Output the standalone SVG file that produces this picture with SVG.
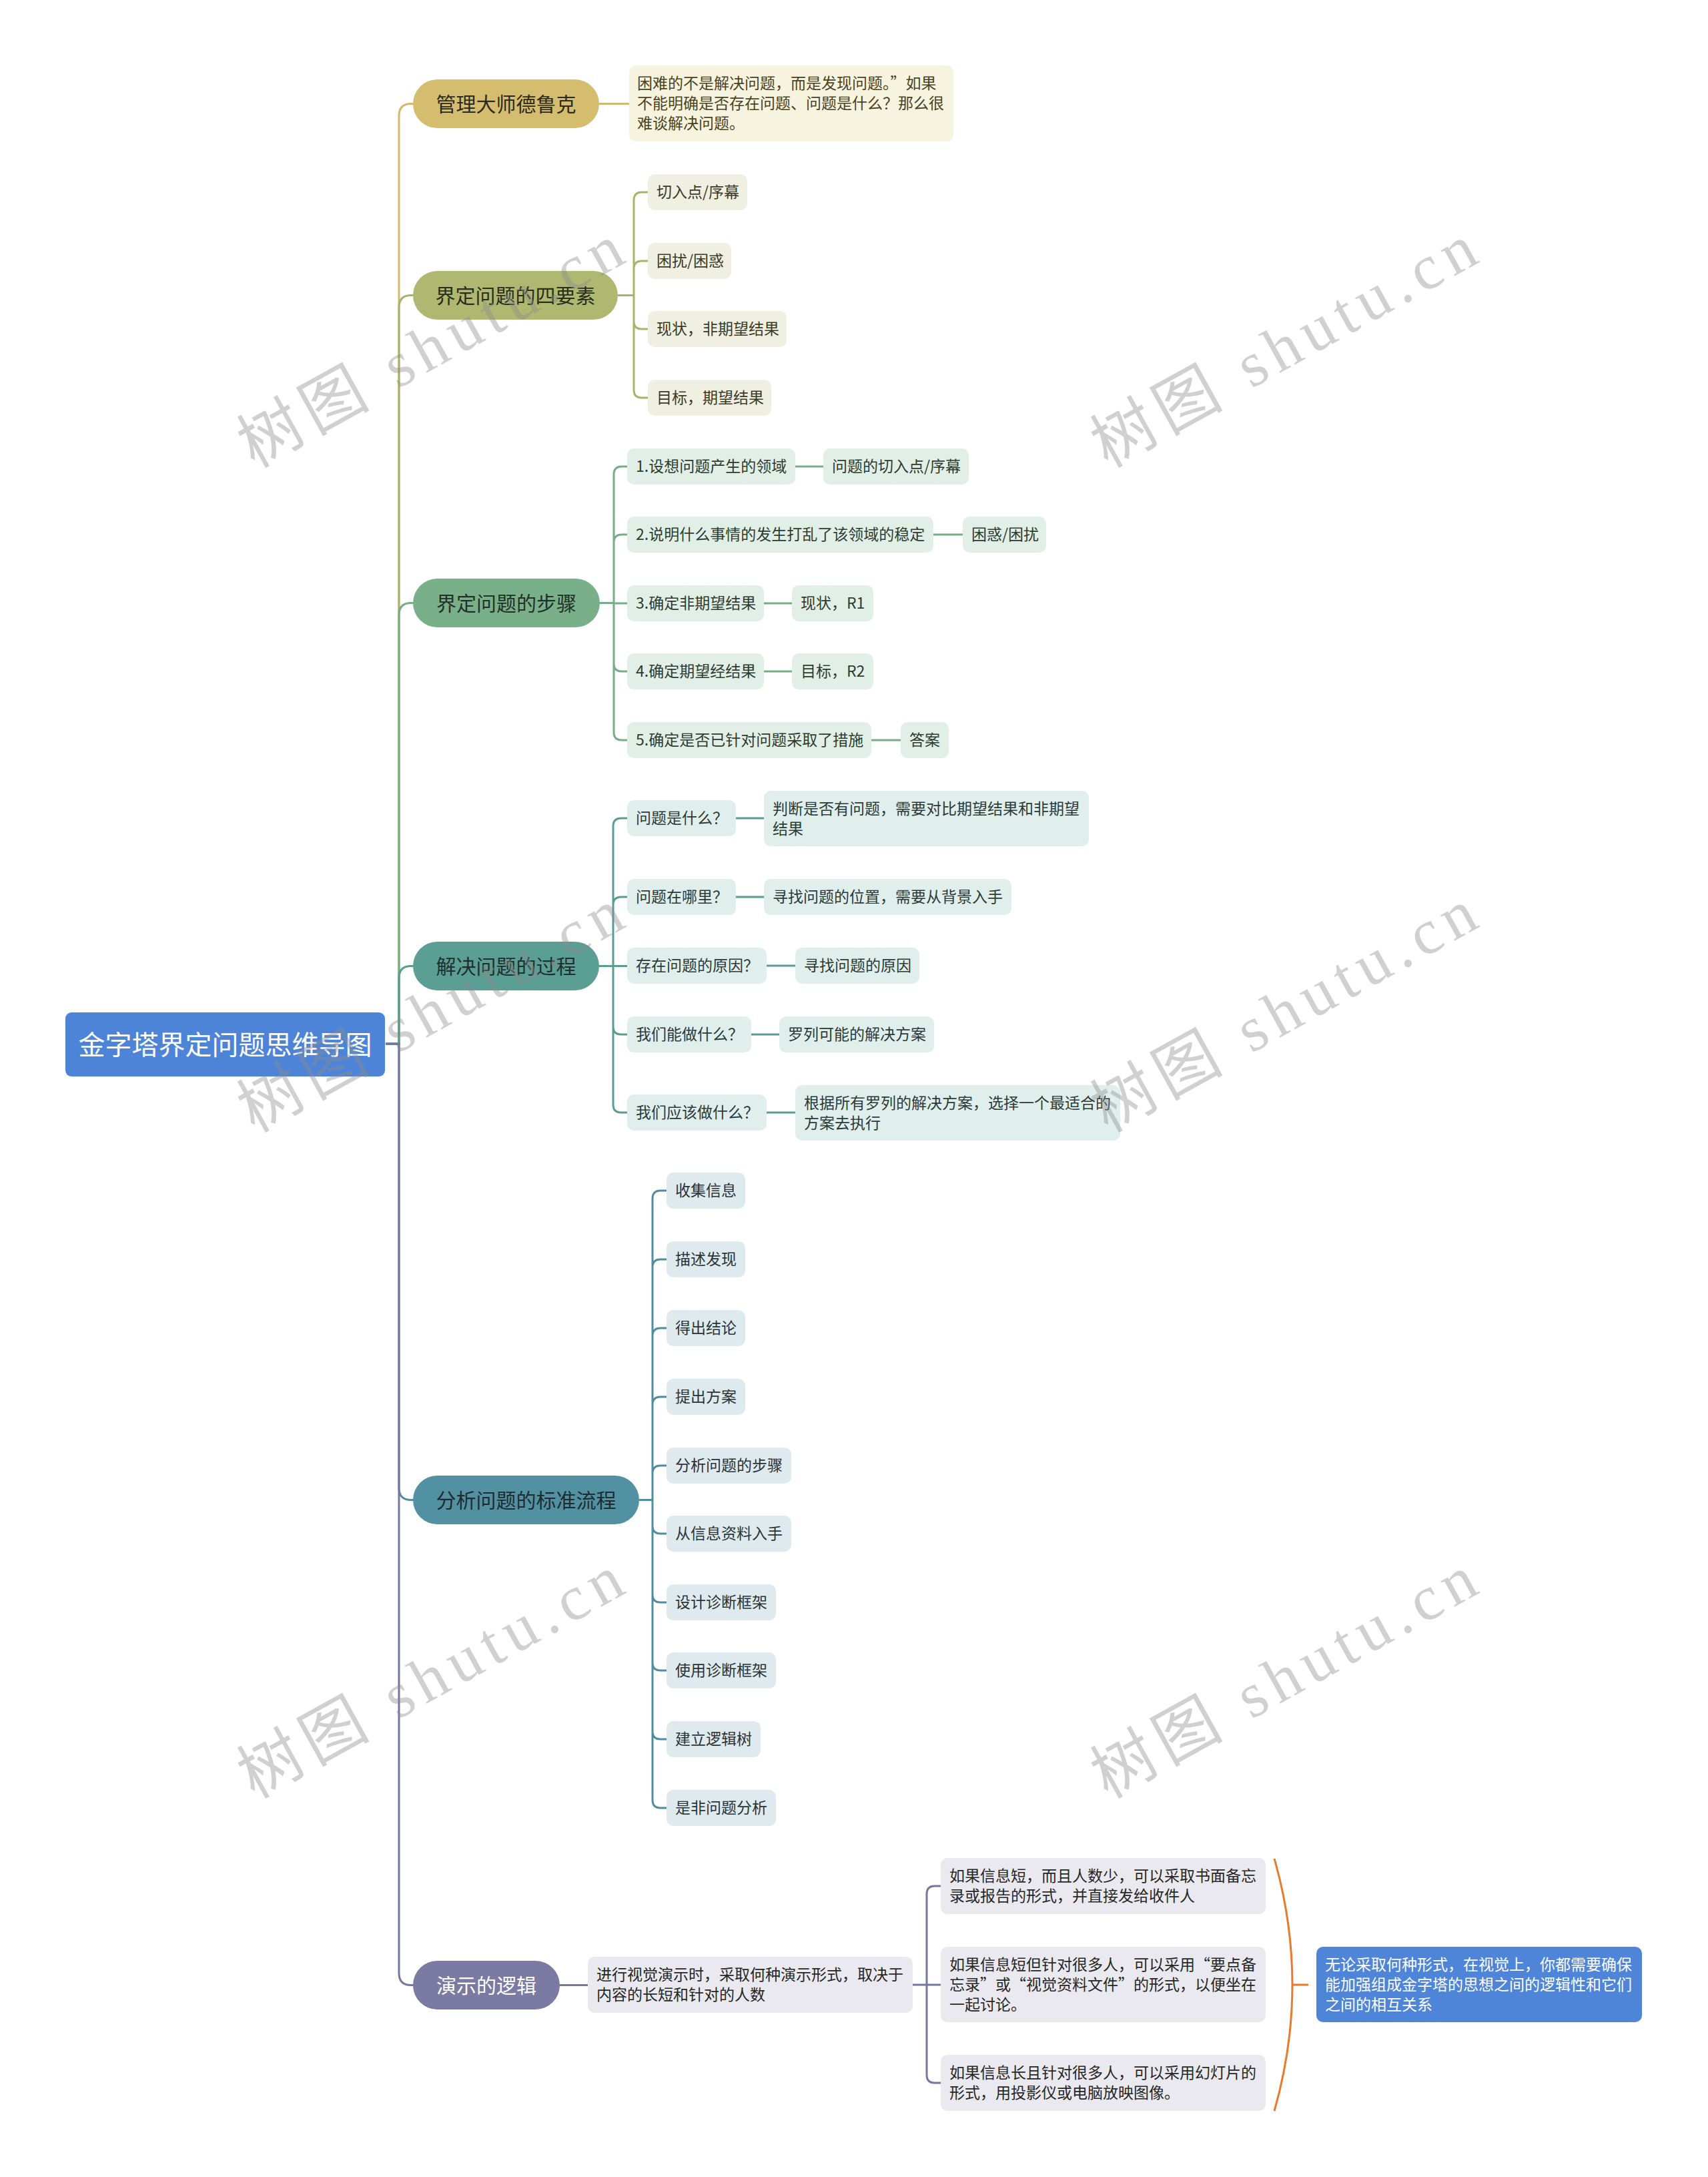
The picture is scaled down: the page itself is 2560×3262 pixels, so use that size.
<svg xmlns="http://www.w3.org/2000/svg" width="2560" height="3262" viewBox="0 0 2560 3262">
<style>
text{font-family:"Noto Sans CJK SC","Noto Sans",sans-serif;}
.s{font-size:23px}
.m{font-size:30px;text-anchor:middle}
.c{fill:none;stroke-width:3}
.k1{stroke:#cfba6d}.k2{stroke:#a9b36c}.k3{stroke:#77ad86}.k4{stroke:#589c92}.k5{stroke:#4f8d9f}.k6{stroke:#76769e}
.wm{font-family:"Liberation Serif","Noto Sans CJK SC",serif;font-size:95px;fill:#8c8c8c;opacity:0.4;text-anchor:middle}
</style>
<rect width="2560" height="3262" fill="#ffffff"/>
<g id="connectors">
<path class="c k1" d="M578,1564 H598 V173.5 Q598,155.5 616,155.5 H620"/>
<path class="c k2" d="M578,1564 H598 V460.5 Q598,442.5 616,442.5 H620"/>
<path class="c k3" d="M578,1564 H598 V921.5 Q598,903.5 616,903.5 H620"/>
<path class="c k4" d="M578,1564 H598 V1465.5 Q598,1447.5 616,1447.5 H620"/>
<path class="c k5" d="M578,1564 H598 V2229.5 Q598,2247.5 616,2247.5 H620"/>
<path class="c k6" d="M578,1564 H598 V2956.5 Q598,2974.5 616,2974.5 H620"/>
<path class="c k1" d="M898,155.5 H943"/>
<path class="c k2" d="M926,442.5 H950 M950,442.5 V300 Q950,288 962,288 H971 M950,442.5 V403 Q950,391 962,391 H971 M950,442.5 V481 Q950,493 962,493 H971 M950,442.5 V584 Q950,596 962,596 H971"/>
<path class="c k3" d="M899,903.5 H920 M920,903.5 V711 Q920,699 932,699 H940 M920,903.5 V813 Q920,801 932,801 H940 M920,904 H940 M920,903.5 V994 Q920,1006 932,1006 H940 M920,903.5 V1097 Q920,1109 932,1109 H940"/>
<path class="c k3" d="M1192,699 H1234 M1399,801 H1443 M1145,904 H1187 M1145,1006 H1187 M1306,1109 H1350"/>
<path class="c k4" d="M898,1447.5 H919 M919,1447.5 V1238 Q919,1226 931,1226 H940 M919,1447.5 V1356 Q919,1344 931,1344 H940 M919,1447.5 H940 M919,1447.5 V1538 Q919,1550 931,1550 H940 M919,1447.5 V1655 Q919,1667 931,1667 H940"/>
<path class="c k4" d="M1103,1226 H1145 M1103,1344 H1145 M1149,1447 H1192 M1126,1550 H1168 M1149,1667 H1192"/>
<path class="c k5" d="M958,2247.5 H978 M978,2247.5 V1796 Q978,1784 990,1784 H999 M978,2247.5 V1899 Q978,1887 990,1887 H999 M978,2247.5 V2002 Q978,1990 990,1990 H999 M978,2247.5 V2105 Q978,2093 990,2093 H999 M978,2247.5 V2208 Q978,2196 990,2196 H999 M978,2247.5 V2286 Q978,2298 990,2298 H999 M978,2247.5 V2389 Q978,2401 990,2401 H999 M978,2247.5 V2491 Q978,2503 990,2503 H999 M978,2247.5 V2594 Q978,2606 990,2606 H999 M978,2247.5 V2697 Q978,2709 990,2709 H999"/>
<path class="c k6" d="M839,2974.5 H881 M1368,2974 H1389 M1389,2974 V2838 Q1389,2826 1401,2826 H1410 M1389,2974 H1410 M1389,2974 V3109 Q1389,3121 1401,3121 H1410"/>
<path d="M1910,2785 Q1964,2974 1910,3163 M1937,2974 H1961" fill="none" stroke="#e87a2e" stroke-width="3"/>
</g>
<g id="root">
<rect x="98" y="1517" width="479" height="96" rx="9" fill="#4d84d7"/>
<text x="337.5" y="1580" font-size="40" text-anchor="middle" fill="#ffffff">金字塔界定问题思维导图</text>
</g>
<g id="b1">
<rect x="619" y="119" width="279" height="73" rx="36.5" fill="#d4bd6e"/>
<text class="m" x="758.5" y="166.5" fill="#2b2a1c">管理大师德鲁克</text>
</g>
<g id="b1-note">
<rect x="943" y="98" width="486" height="114" rx="10" fill="#f6f3df"/>
<text class="s" fill="#4a421e"><tspan x="955" y="133">困难的不是解决问题，而是发现问题。”如果</tspan><tspan x="955" y="163">不能明确是否存在问题、问题是什么？那么很</tspan><tspan x="955" y="193">难谈解决问题。</tspan></text>
</g>
<g id="b2">
<rect x="619" y="406" width="307" height="73" rx="36.5" fill="#aeb870"/>
<text class="m" x="772.5" y="453.5" fill="#2a2d1c">界定问题的四要素</text>
</g>
<g id="b2-1"><rect x="971" y="261" width="149" height="54" rx="10" fill="#efefe2"/><text class="s" x="984" y="296" fill="#3a3a26">切入点/序幕</text></g>
<g id="b2-2"><rect x="971" y="364" width="125" height="54" rx="10" fill="#efefe2"/><text class="s" x="984" y="399" fill="#3a3a26">困扰/困惑</text></g>
<g id="b2-3"><rect x="971" y="466" width="208" height="54" rx="10" fill="#efefe2"/><text class="s" x="984" y="501" fill="#3a3a26">现状，非期望结果</text></g>
<g id="b2-4"><rect x="971" y="569" width="185" height="54" rx="10" fill="#efefe2"/><text class="s" x="984" y="604" fill="#3a3a26">目标，期望结果</text></g>
<g id="b3">
<rect x="619" y="867" width="280" height="73" rx="36.5" fill="#79b089"/>
<text class="m" x="759" y="914.5" fill="#23302a">界定问题的步骤</text>
</g>
<g id="b3-1"><rect x="940" y="672" width="252" height="54" rx="10" fill="#e2efe6"/><text class="s" x="953" y="707" fill="#2e3b31">1.设想问题产生的领域</text></g>
<g id="b3-1a"><rect x="1234" y="672" width="218" height="54" rx="10" fill="#e2efe6"/><text class="s" x="1247" y="707" fill="#2e3b31">问题的切入点/序幕</text></g>
<g id="b3-2"><rect x="940" y="774" width="459" height="54" rx="10" fill="#e2efe6"/><text class="s" x="953" y="809" fill="#2e3b31">2.说明什么事情的发生打乱了该领域的稳定</text></g>
<g id="b3-2a"><rect x="1443" y="774" width="125" height="54" rx="10" fill="#e2efe6"/><text class="s" x="1456" y="809" fill="#2e3b31">困惑/困扰</text></g>
<g id="b3-3"><rect x="940" y="877" width="205" height="54" rx="10" fill="#e2efe6"/><text class="s" x="953" y="912" fill="#2e3b31">3.确定非期望结果</text></g>
<g id="b3-3a"><rect x="1187" y="877" width="122" height="54" rx="10" fill="#e2efe6"/><text class="s" x="1200" y="912" fill="#2e3b31">现状，R1</text></g>
<g id="b3-4"><rect x="940" y="979" width="205" height="54" rx="10" fill="#e2efe6"/><text class="s" x="953" y="1014" fill="#2e3b31">4.确定期望经结果</text></g>
<g id="b3-4a"><rect x="1187" y="979" width="122" height="54" rx="10" fill="#e2efe6"/><text class="s" x="1200" y="1014" fill="#2e3b31">目标，R2</text></g>
<g id="b3-5"><rect x="940" y="1082" width="366" height="54" rx="10" fill="#e2efe6"/><text class="s" x="953" y="1117" fill="#2e3b31">5.确定是否已针对问题采取了措施</text></g>
<g id="b3-5a"><rect x="1350" y="1082" width="72" height="54" rx="10" fill="#e2efe6"/><text class="s" x="1363" y="1117" fill="#2e3b31">答案</text></g>
<g id="b4">
<rect x="619" y="1411" width="279" height="73" rx="36.5" fill="#5a9e94"/>
<text class="m" x="758.5" y="1458.5" fill="#1f2f2c">解决问题的过程</text>
</g>
<g id="b4-1"><rect x="940" y="1199" width="163" height="54" rx="10" fill="#e0efec"/><text class="s" x="953" y="1234" fill="#2b3a38">问题是什么？</text></g>
<g id="b4-1a"><rect x="1145" y="1185" width="487" height="83" rx="10" fill="#e0efec"/><text class="s" fill="#2b3a38"><tspan x="1158" y="1219.5">判断是否有问题，需要对比期望结果和非期望</tspan><tspan x="1158" y="1249.5">结果</tspan></text></g>
<g id="b4-2"><rect x="940" y="1317" width="163" height="54" rx="10" fill="#e0efec"/><text class="s" x="953" y="1352" fill="#2b3a38">问题在哪里？</text></g>
<g id="b4-2a"><rect x="1145" y="1317" width="371" height="54" rx="10" fill="#e0efec"/><text class="s" x="1158" y="1352" fill="#2b3a38">寻找问题的位置，需要从背景入手</text></g>
<g id="b4-3"><rect x="940" y="1420" width="209" height="54" rx="10" fill="#e0efec"/><text class="s" x="953" y="1455" fill="#2b3a38">存在问题的原因？</text></g>
<g id="b4-3a"><rect x="1192" y="1420" width="186" height="54" rx="10" fill="#e0efec"/><text class="s" x="1205" y="1455" fill="#2b3a38">寻找问题的原因</text></g>
<g id="b4-4"><rect x="940" y="1523" width="186" height="54" rx="10" fill="#e0efec"/><text class="s" x="953" y="1558" fill="#2b3a38">我们能做什么？</text></g>
<g id="b4-4a"><rect x="1168" y="1523" width="232" height="54" rx="10" fill="#e0efec"/><text class="s" x="1181" y="1558" fill="#2b3a38">罗列可能的解决方案</text></g>
<g id="b4-5"><rect x="940" y="1640" width="209" height="54" rx="10" fill="#e0efec"/><text class="s" x="953" y="1675" fill="#2b3a38">我们应该做什么？</text></g>
<g id="b4-5a"><rect x="1192" y="1626" width="487" height="83" rx="10" fill="#e0efec"/><text class="s" fill="#2b3a38"><tspan x="1205" y="1660.5">根据所有罗列的解决方案，选择一个最适合的</tspan><tspan x="1205" y="1690.5">方案去执行</tspan></text></g>
<g id="b5">
<rect x="619" y="2211" width="339" height="73" rx="36.5" fill="#5291a2"/>
<text class="m" x="788.5" y="2258.5" fill="#1e2c31">分析问题的标准流程</text>
</g>
<g id="b5-1"><rect x="999" y="1757" width="118" height="54" rx="10" fill="#dfeaee"/><text class="s" x="1012" y="1792" fill="#2a3336">收集信息</text></g>
<g id="b5-2"><rect x="999" y="1860" width="118" height="54" rx="10" fill="#dfeaee"/><text class="s" x="1012" y="1895" fill="#2a3336">描述发现</text></g>
<g id="b5-3"><rect x="999" y="1963" width="118" height="54" rx="10" fill="#dfeaee"/><text class="s" x="1012" y="1998" fill="#2a3336">得出结论</text></g>
<g id="b5-4"><rect x="999" y="2066" width="118" height="54" rx="10" fill="#dfeaee"/><text class="s" x="1012" y="2101" fill="#2a3336">提出方案</text></g>
<g id="b5-5"><rect x="999" y="2169" width="187" height="54" rx="10" fill="#dfeaee"/><text class="s" x="1012" y="2204" fill="#2a3336">分析问题的步骤</text></g>
<g id="b5-6"><rect x="999" y="2271" width="187" height="54" rx="10" fill="#dfeaee"/><text class="s" x="1012" y="2306" fill="#2a3336">从信息资料入手</text></g>
<g id="b5-7"><rect x="999" y="2374" width="164" height="54" rx="10" fill="#dfeaee"/><text class="s" x="1012" y="2409" fill="#2a3336">设计诊断框架</text></g>
<g id="b5-8"><rect x="999" y="2476" width="164" height="54" rx="10" fill="#dfeaee"/><text class="s" x="1012" y="2511" fill="#2a3336">使用诊断框架</text></g>
<g id="b5-9"><rect x="999" y="2579" width="141" height="54" rx="10" fill="#dfeaee"/><text class="s" x="1012" y="2614" fill="#2a3336">建立逻辑树</text></g>
<g id="b5-10"><rect x="999" y="2682" width="164" height="54" rx="10" fill="#dfeaee"/><text class="s" x="1012" y="2717" fill="#2a3336">是非问题分析</text></g>
<g id="b6">
<rect x="619" y="2938" width="220" height="73" rx="36.5" fill="#7a7aa2"/>
<text class="m" x="729" y="2985.5" fill="#ffffff">演示的逻辑</text>
</g>
<g id="b6-1"><rect x="881" y="2932" width="487" height="84" rx="10" fill="#e9e9ef"/><text class="s" fill="#262626"><tspan x="894" y="2967">进行视觉演示时，采取何种演示形式，取决于</tspan><tspan x="894" y="2997">内容的长短和针对的人数</tspan></text></g>
<g id="b6-1a"><rect x="1410" y="2784" width="487" height="84" rx="10" fill="#e9e9ef"/><text class="s" fill="#262626"><tspan x="1423" y="2819">如果信息短，而且人数少，可以采取书面备忘</tspan><tspan x="1423" y="2849">录或报告的形式，并直接发给收件人</tspan></text></g>
<g id="b6-1b"><rect x="1410" y="2917" width="487" height="113" rx="10" fill="#e9e9ef"/><text class="s" fill="#262626"><tspan x="1423" y="2952">如果信息短但针对很多人，可以采用“要点备</tspan><tspan x="1423" y="2982">忘录”或“视觉资料文件”的形式，以便坐在</tspan><tspan x="1423" y="3012">一起讨论。</tspan></text></g>
<g id="b6-1c"><rect x="1410" y="3079" width="487" height="84" rx="10" fill="#e9e9ef"/><text class="s" fill="#262626"><tspan x="1423" y="3114">如果信息长且针对很多人，可以采用幻灯片的</tspan><tspan x="1423" y="3144">形式，用投影仪或电脑放映图像。</tspan></text></g>
<g id="summary"><rect x="1973" y="2917" width="488" height="113" rx="10" fill="#4e85d8"/><text class="s" fill="#ffffff"><tspan x="1986" y="2952">无论采取何种形式，在视觉上，你都需要确保</tspan><tspan x="1986" y="2982">能加强组成金字塔的思想之间的逻辑性和它们</tspan><tspan x="1986" y="3012">之间的相互关系</tspan></text></g>
<g id="watermark">
<text class="wm" transform="translate(645,518) rotate(-29)" x="0" y="33" textLength="640" lengthAdjust="spacing">树图 shutu.cn</text>
<text class="wm" transform="translate(1924,518) rotate(-29)" x="0" y="33" textLength="640" lengthAdjust="spacing">树图 shutu.cn</text>
<text class="wm" transform="translate(645,1514) rotate(-29)" x="0" y="33" textLength="640" lengthAdjust="spacing">树图 shutu.cn</text>
<text class="wm" transform="translate(1924,1514) rotate(-29)" x="0" y="33" textLength="640" lengthAdjust="spacing">树图 shutu.cn</text>
<text class="wm" transform="translate(645,2512) rotate(-29)" x="0" y="33" textLength="640" lengthAdjust="spacing">树图 shutu.cn</text>
<text class="wm" transform="translate(1924,2512) rotate(-29)" x="0" y="33" textLength="640" lengthAdjust="spacing">树图 shutu.cn</text>
</g>
</svg>
